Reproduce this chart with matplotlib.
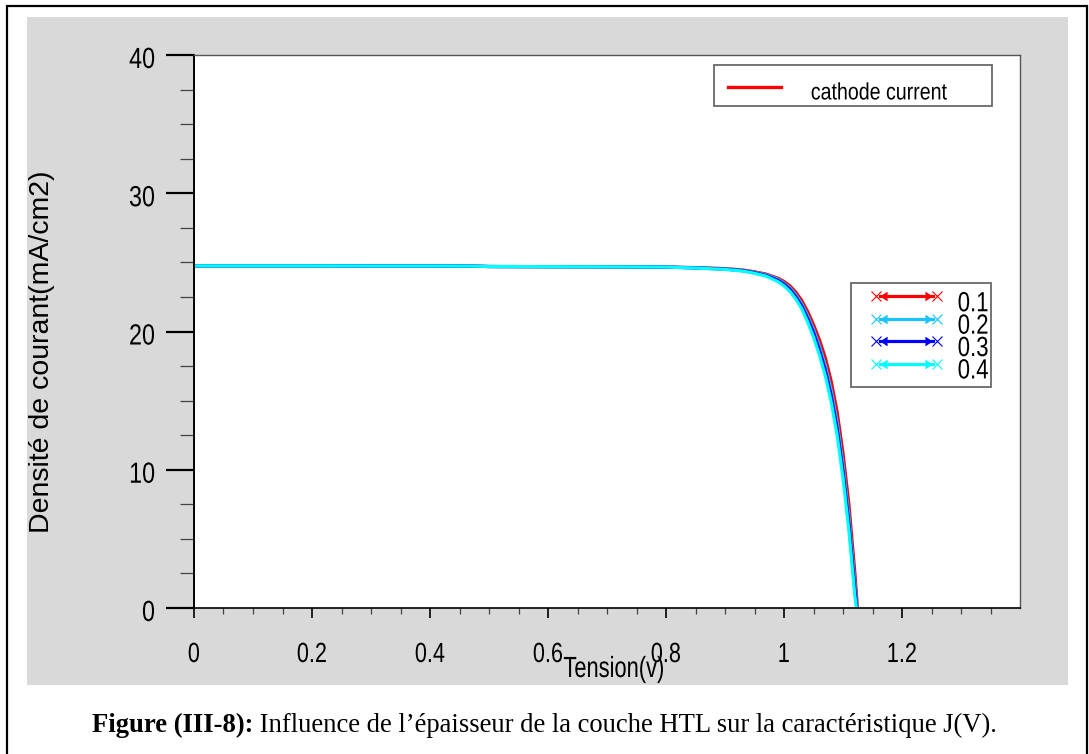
import matplotlib
matplotlib.use("Agg")
import matplotlib.pyplot as plt
from matplotlib.lines import Line2D
from matplotlib.patches import Rectangle
from matplotlib.legend_handler import HandlerBase
from matplotlib.patheffects import AbstractPathEffect
from matplotlib.transforms import Affine2D
from matplotlib.ticker import MultipleLocator, FixedLocator

# J(V) curves for several HTL thicknesses (um)
thickness_labels = ["0.1", "0.2", "0.3", "0.4"]
line_colors = ["#ff0000", "#19c3ff", "#0000ff", "#00ffff"]

tension = [0.0, 0.1, 0.2, 0.3, 0.4, 0.47, 0.5, 0.6, 0.7, 0.8, 0.85, 0.9, 0.93,
           0.95, 0.97, 0.99, 1.0, 1.01, 1.02, 1.03, 1.04, 1.05, 1.06, 1.07,
           1.08, 1.09, 1.10, 1.11, 1.12]

j_01 = [24.75, 24.75, 24.75, 24.74, 24.74, 24.73, 24.70, 24.69, 24.68, 24.66,
        24.62, 24.55, 24.45, 24.32, 24.15, 23.85, 23.62, 23.30, 22.85, 22.25,
        21.45, 20.50, 19.40, 18.10, 16.40, 14.20, 11.20, 7.50, 2.60]
j_02 = [24.75, 24.75, 24.75, 24.74, 24.74, 24.73, 24.70, 24.69, 24.68, 24.66,
        24.61, 24.53, 24.42, 24.28, 24.10, 23.78, 23.50, 23.15, 22.65, 22.00,
        21.15, 20.15, 18.95, 17.55, 15.75, 13.45, 10.40, 6.60, 1.80]
j_03 = [24.75, 24.75, 24.75, 24.74, 24.74, 24.73, 24.70, 24.69, 24.68, 24.66,
        24.60, 24.51, 24.40, 24.25, 24.05, 23.70, 23.42, 23.05, 22.52, 21.85,
        20.95, 19.92, 18.65, 17.20, 15.35, 13.00, 9.90, 6.10, 1.40]
j_04 = [24.75, 24.75, 24.75, 24.74, 24.74, 24.73, 24.70, 24.69, 24.68, 24.66,
        24.59, 24.49, 24.37, 24.21, 24.00, 23.60, 23.30, 22.90, 22.35, 21.65,
        20.70, 19.60, 18.30, 16.80, 14.90, 12.50, 9.40, 5.60, 0.90]
voc = [1.1245, 1.1238, 1.1233, 1.1228]

x_ticks = [0, 0.2, 0.4, 0.6, 0.8, 1.0, 1.2]
x_tick_labels = ["0", "0.2", "0.4", "0.6", "0.8", "1", "1.2"]
y_ticks = [0, 10, 20, 30, 40]

W, H = 1089, 754
SANS = "Liberation Sans"


class Squeeze(AbstractPathEffect):
    """Draw text narrower (condensed look), keeping one edge or the centre fixed."""

    def __init__(self, sx=0.8, anchor="center", dy=0.0):
        super().__init__()
        self.sx, self.anchor, self.dy = sx, anchor, dy

    def draw_path(self, renderer, gc, tpath, affine, rgbFace=None):
        xs = tpath.vertices[:, 0]
        if len(xs) == 0:
            return
        if self.anchor == "left":
            piv = 0.0
        elif self.anchor == "right":
            piv = xs.max()
        else:
            piv = (xs.min() + xs.max()) / 2
        t = (Affine2D().translate(-piv, 0).scale(self.sx, 1).translate(piv, 0)
             + affine + Affine2D().translate(0, -self.dy))
        renderer.draw_path(gc, tpath, t, rgbFace)


class LineHandler(HandlerBase):
    # plain legend line, optionally with a cross and an arrow head at each end
    def __init__(self, lead=0.0, lift=0.0, arrows=True):
        super().__init__()
        self.lead, self.lift, self.arrows = lead, lift, arrows

    def create_artists(self, legend, orig_handle, xdescent, ydescent,
                       width, height, fontsize, trans):
        c = orig_handle.get_color()
        lw = orig_handle.get_linewidth()
        y = height / 2 - ydescent + self.lift
        x0, x1 = -xdescent + self.lead, width - xdescent
        if not self.arrows:
            return [Line2D([x0, x1], [y, y], color=c, lw=lw, transform=trans)]
        body = Line2D([x0 + 3, x1 - 3], [y, y], color=c, lw=lw, transform=trans)
        crosses = Line2D([x0, x1], [y, y], ls="none", marker="x", ms=6.5,
                         mew=0.8, color=c, transform=trans)
        left = Line2D([x0 + 4], [y], ls="none", marker=4, ms=6, color=c,
                      transform=trans)
        right = Line2D([x1 - 4], [y], ls="none", marker=5, ms=6, color=c,
                       transform=trans)
        return [body, crosses, left, right]


fig = plt.figure(figsize=(W / 100, H / 100), dpi=100)

# outer frame and grey panel
fig.add_artist(Rectangle((7 / W, -0.05), 1080 / W, 1.05 - 6 / H,
                         transform=fig.transFigure, fill=False,
                         edgecolor="black", lw=1.6))
fig.add_artist(Rectangle((27 / W, 1 - 685 / H), (1068 - 27) / W, (685 - 17) / H,
                         transform=fig.transFigure, facecolor="#d9d9d9",
                         edgecolor="none", zorder=0))

AX_W, AX_H = 1020 - 194, 608 - 55
ax = fig.add_axes([194 / W, 1 - 608 / H, AX_W / W, AX_H / H])
ax.set_facecolor("white")

series = [j_01, j_02, j_03, j_04]
lines = []
for j, v_end, col, lab in zip(series, voc, line_colors, thickness_labels):
    ln, = ax.plot(tension + [v_end], j + [0.0], color=col, lw=2.3, label=lab,
                  solid_capstyle="butt")
    lines.append(ln)

ax.set_xlim(0, 1.4)
ax.set_ylim(0, 40)
ax.xaxis.set_major_locator(FixedLocator(x_ticks))
ax.set_xticklabels(x_tick_labels)
ax.xaxis.set_minor_locator(FixedLocator([0.05 * i for i in range(28)]))
ax.yaxis.set_major_locator(FixedLocator(y_ticks))
ax.yaxis.set_minor_locator(MultipleLocator(2.5))

ax.tick_params(axis="y", which="major", length=20, width=1.6, pad=8, labelsize=21)
ax.tick_params(axis="y", which="minor", length=10, width=0.9, color="#444444")
ax.tick_params(axis="x", which="major", length=7.5, width=1.2, pad=17, labelsize=20)
ax.tick_params(axis="x", which="minor", length=4.5, width=0.9, color="#444444")
for lab in ax.get_xticklabels():
    lab.set_family(SANS)
    lab.set_path_effects([Squeeze(0.78, "center")])
for lab in ax.get_yticklabels():
    lab.set_family(SANS)
    lab.set_path_effects([Squeeze(0.8, "right", dy=2)])

ax.spines["left"].set_linewidth(1.4)
ax.spines["bottom"].set_linewidth(1.2)
for s in ("top", "right"):
    ax.spines[s].set_linewidth(1.0)
    ax.spines[s].set_color("#555555")

xl = ax.set_xlabel("Tension(v)", fontsize=21, family=SANS)
xl.set_path_effects([Squeeze(0.75, "center")])
ax.xaxis.set_label_coords((614 - 194) / AX_W, (608 - 655) / AX_H)
ax.set_ylabel("Densité de courant(mA/cm2)", family=SANS, fontsize=20.5)
ax.yaxis.set_label_coords((55 - 194) / AX_W, (608 - 352) / AX_H)

# legend for the plotted quantity
leg1 = ax.legend([Line2D([], [], color="#ff0000", lw=2.4)], ["cathode current"],
                 loc="upper left",
                 bbox_to_anchor=((714 - 194) / AX_W, (608 - 65) / AX_H, 278 / AX_W, 0),
                 mode="expand", handler_map={Line2D: LineHandler(3, -3, arrows=False)},
                 frameon=True, fancybox=False, borderaxespad=0, borderpad=0.4,
                 handlelength=2.45, handletextpad=1.25,
                 prop=dict(size=17, family=SANS))
leg1.get_frame().set_edgecolor("#444444")
leg1.get_frame().set_linewidth(1.3)
for t in leg1.get_texts():
    t.set_path_effects([Squeeze(0.83, "left", dy=8)])
ax.add_artist(leg1)

# legend for the thicknesses
leg2 = ax.legend(lines, thickness_labels, loc="upper left",
                 bbox_to_anchor=((851 - 194) / AX_W, (608 - 283) / AX_H, 140 / AX_W, 0),
                 mode="expand", handler_map={Line2D: LineHandler(14, 1.5)},
                 frameon=True, fancybox=False, borderaxespad=0, borderpad=0.19,
                 labelspacing=-0.13, handlelength=2.9, handletextpad=0.75,
                 prop=dict(size=20, family=SANS))
leg2.get_frame().set_edgecolor("#444444")
leg2.get_frame().set_linewidth(1.3)
for t in leg2.get_texts():
    t.set_path_effects([Squeeze(0.8, "left", dy=3)])

# caption: bold reference followed by regular text, centred as one line
y_cap = 1 - 725 / H
t1 = fig.text(0, y_cap, "Figure (III-8):", family="Liberation Serif",
              fontweight="bold", fontsize=19.2, va="center")
t2 = fig.text(0, y_cap, " Influence de l\u2019épaisseur de la couche HTL sur la caractéristique J(V).",
              family="Liberation Serif", fontsize=19.2, va="center")
r = fig.canvas.get_renderer()
w1 = t1.get_window_extent(r).width
w2 = t2.get_window_extent(r).width
x0 = (W - w1 - w2) / 2
t1.set_x(x0 / W)
t2.set_x((x0 + w1) / W)

fig.savefig("out.png", dpi=100)
